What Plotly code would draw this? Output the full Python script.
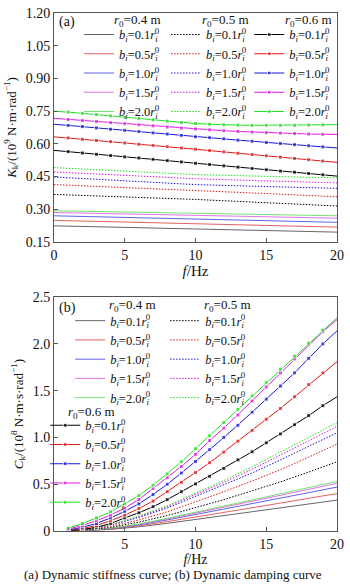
import plotly.graph_objects as go

# ---------------- data ----------------
bi_values = ["0.1", "0.5", "1.0", "1.5", "2.0"]
r0_titles = ["0.4", "0.5", "0.6"]
colors = ["#000000", "#e01818", "#1818d8", "#e018e0", "#20e020"]
thin_colors = ["#555555", "#e05050", "#5050e0", "#e060e0", "#60e060"]

# Panel (a): dynamic stiffness K_k (10^9 N·m·rad^-1)
f_a_coarse = [0, 5, 10, 15, 20]
f_a_fine = list(range(21))
ka_r04 = [
    [0.224, 0.217, 0.210, 0.202, 0.195],
    [0.249, 0.241, 0.233, 0.225, 0.218],
    [0.270, 0.263, 0.255, 0.248, 0.240],
    [0.285, 0.278, 0.271, 0.265, 0.259],
    [0.293, 0.287, 0.281, 0.275, 0.270],
]
ka_r05 = [
    [0.368, 0.357, 0.345, 0.330, 0.315],
    [0.413, 0.400, 0.387, 0.372, 0.357],
    [0.448, 0.430, 0.413, 0.404, 0.396],
    [0.471, 0.455, 0.440, 0.430, 0.421],
    [0.491, 0.475, 0.459, 0.451, 0.444],
]
ka_r06 = [
    [0.570, 0.564, 0.558, 0.552, 0.546, 0.540, 0.535, 0.529, 0.523, 0.517, 0.511,
     0.505, 0.499, 0.493, 0.487, 0.481, 0.475, 0.470, 0.464, 0.458, 0.452],
    [0.632, 0.627, 0.621, 0.615, 0.610, 0.604, 0.598, 0.593, 0.587, 0.581, 0.575,
     0.569, 0.563, 0.557, 0.551, 0.545, 0.539, 0.533, 0.527, 0.521, 0.515],
    [0.690, 0.685, 0.679, 0.673, 0.667, 0.662, 0.656, 0.650, 0.645, 0.639, 0.632,
     0.628, 0.623, 0.617, 0.612, 0.606, 0.601, 0.596, 0.591, 0.586, 0.581],
    [0.717, 0.712, 0.707, 0.702, 0.697, 0.692, 0.687, 0.682, 0.677, 0.672, 0.668,
     0.664, 0.660, 0.657, 0.654, 0.651, 0.649, 0.647, 0.645, 0.644, 0.643],
    [0.750, 0.746, 0.740, 0.734, 0.728, 0.722, 0.716, 0.710, 0.704, 0.698, 0.693,
     0.690, 0.687, 0.686, 0.685, 0.685, 0.685, 0.685, 0.686, 0.687, 0.688],
]

# Panel (b): dynamic damping C_k (10^8 N·m·s·rad^-1)
f_b_coarse = [1, 2, 4, 6, 8, 10, 12, 14, 16, 18, 20]
f_b_fine = list(range(1, 21))
cb_r04 = [
    [0.001, 0.003, 0.017, 0.045, 0.082, 0.122, 0.163, 0.205, 0.247, 0.290, 0.330],
    [0.001, 0.004, 0.021, 0.055, 0.100, 0.148, 0.197, 0.248, 0.298, 0.350, 0.400],
    [0.001, 0.004, 0.025, 0.065, 0.118, 0.175, 0.233, 0.292, 0.352, 0.410, 0.470],
    [0.001, 0.005, 0.028, 0.070, 0.128, 0.190, 0.253, 0.316, 0.380, 0.445, 0.510],
    [0.001, 0.005, 0.030, 0.075, 0.135, 0.200, 0.265, 0.330, 0.395, 0.460, 0.530],
]
cb_r05 = [
    [0.002, 0.008, 0.038, 0.095, 0.165, 0.250, 0.335, 0.430, 0.525, 0.630, 0.740],
    [0.002, 0.010, 0.048, 0.118, 0.205, 0.310, 0.420, 0.535, 0.655, 0.790, 0.930],
    [0.003, 0.012, 0.060, 0.145, 0.245, 0.370, 0.490, 0.620, 0.760, 0.905, 1.050],
    [0.003, 0.013, 0.063, 0.155, 0.260, 0.390, 0.520, 0.660, 0.810, 0.965, 1.120],
    [0.003, 0.014, 0.066, 0.160, 0.270, 0.405, 0.540, 0.685, 0.840, 1.000, 1.160],
]
cb_r06 = [
    [0.003, 0.015, 0.040, 0.080, 0.140, 0.195, 0.260, 0.335, 0.420, 0.503,
     0.585, 0.668, 0.760, 0.847, 0.942, 1.037, 1.136, 1.234, 1.340, 1.435],
    [0.005, 0.025, 0.060, 0.110, 0.170, 0.240, 0.320, 0.420, 0.520, 0.626,
     0.730, 0.844, 0.960, 1.075, 1.195, 1.310, 1.435, 1.565, 1.690, 1.810],
    [0.010, 0.040, 0.080, 0.140, 0.210, 0.290, 0.390, 0.500, 0.620, 0.742,
     0.870, 1.000, 1.130, 1.270, 1.410, 1.550, 1.690, 1.846, 2.000, 2.140],
    [0.020, 0.060, 0.110, 0.170, 0.245, 0.337, 0.455, 0.573, 0.690, 0.820,
     0.967, 1.100, 1.240, 1.390, 1.540, 1.690, 1.840, 1.990, 2.130, 2.260],
    [0.030, 0.080, 0.140, 0.205, 0.290, 0.380, 0.490, 0.610, 0.740, 0.880,
     1.020, 1.160, 1.300, 1.445, 1.590, 1.730, 1.870, 2.010, 2.150, 2.280],
]

ka_ticks = [0.15, 0.30, 0.45, 0.60, 0.75, 0.90, 1.05, 1.20]
cb_ticks = [0, 0.5, 1.0, 1.5, 2.0, 2.5]
cb_ticktext = ["0", "0.5", "1.0", "1.5", "2.0", "2.5"]
f_ticks_a = [0, 5, 10, 15, 20]
f_ticks_b = [5, 10, 15, 20]

FONT = "Liberation Serif"
DOT = "1.5px,1.5px"


def lab(b):
    return ("<i>b</i><sub><i>i</i></sub>=" + b +
            "<i>r</i><sub><span style='letter-spacing:-3px'><i>i</i></span></sub><sup>0</sup>")


def r0lab(r):
    return "<i>r</i><sub>0</sub>=" + r + " m"


fig = go.Figure()

# ---- panel (a) ----
for i in range(5):
    fig.add_trace(go.Scatter(x=f_a_coarse, y=ka_r04[i], mode="lines",
                             line=dict(color=thin_colors[i], width=0.9),
                             name=lab(bi_values[i]), legend="legend",
                             xaxis="x", yaxis="y"))
for i in range(5):
    fig.add_trace(go.Scatter(x=f_a_coarse, y=ka_r05[i], mode="lines",
                             line=dict(color=colors[i], width=1, dash=DOT),
                             name=lab(bi_values[i]), legend="legend2",
                             xaxis="x", yaxis="y"))
for i in range(5):
    sizes = [0] + [4] * 19 + [0]
    fig.add_trace(go.Scatter(x=f_a_fine, y=ka_r06[i], mode="lines+markers",
                             line=dict(color=colors[i], width=1),
                             marker=dict(symbol="square", size=sizes, color=colors[i]),
                             name=lab(bi_values[i]), legend="legend3",
                             xaxis="x", yaxis="y"))

# ---- panel (b) ----
for i in range(5):
    fig.add_trace(go.Scatter(x=f_b_coarse, y=cb_r04[i], mode="lines",
                             line=dict(color=thin_colors[i], width=0.9),
                             name=lab(bi_values[i]), legend="legend4",
                             xaxis="x2", yaxis="y2"))
for i in range(5):
    fig.add_trace(go.Scatter(x=f_b_coarse, y=cb_r05[i], mode="lines",
                             line=dict(color=colors[i], width=1, dash=DOT),
                             name=lab(bi_values[i]), legend="legend5",
                             xaxis="x2", yaxis="y2"))
for i in range(5):
    sizes = [4] * 19 + [0]
    fig.add_trace(go.Scatter(x=f_b_fine, y=cb_r06[i], mode="lines+markers",
                             line=dict(color=colors[i], width=1),
                             marker=dict(symbol="square", size=sizes, color=colors[i]),
                             name=lab(bi_values[i]), legend="legend6",
                             xaxis="x2", yaxis="y2"))

axis_common = dict(showline=True, mirror=True, linecolor="#555555", linewidth=1,
                   ticks="inside", ticklen=4, tickcolor="#555555",
                   showgrid=False, zeroline=False,
                   tickfont=dict(family=FONT, size=14, color="#111"))


def leg(x, y):
    return dict(x=x, y=y, xanchor="left", yanchor="top",
                bgcolor="rgba(0,0,0,0)", borderwidth=0,
                font=dict(family=FONT, size=12.5, color="#111"),
                tracegroupgap=0, itemwidth=30)


def ann(text, x, y, xanchor="left", size=13):
    return dict(text=text, x=x, y=y, xref="paper", yref="paper",
                xanchor=xanchor, yanchor="middle", showarrow=False,
                font=dict(family=FONT, size=size, color="#111"))


fig.update_layout(
    width=350, height=585,
    margin=dict(l=54, r=7, t=6, b=54),
    paper_bgcolor="white", plot_bgcolor="white",
    font=dict(family=FONT, size=14, color="#111"),
    xaxis=dict(domain=[0, 1], anchor="y", range=[0, 20], tickvals=f_ticks_a,
               title=dict(text="<i>f</i>/Hz", font=dict(family=FONT, size=15), standoff=2),
               **axis_common),
    yaxis=dict(domain=[0.558, 1], anchor="x", range=[0.15, 1.20], tickvals=ka_ticks,
               tickformat=".2f",
               title=dict(text="<i>K</i><sub>k</sub>/(10<sup>9</sup> N·m·rad<sup>−1</sup>)",
                          font=dict(family=FONT, size=13), standoff=6),
               **axis_common),
    xaxis2=dict(domain=[0, 1], anchor="y2", range=[0, 20], tickvals=f_ticks_b,
                title=dict(text="<i>f</i>/Hz", font=dict(family=FONT, size=14), standoff=1),
                **axis_common),
    yaxis2=dict(domain=[0, 0.4514], anchor="x2", range=[0, 2.5], tickvals=cb_ticks,
                ticktext=cb_ticktext,
                title=dict(text="<i>C</i><sub>k</sub>/(10<sup>8</sup> N·m·s·rad<sup>−1</sup>)",
                           font=dict(family=FONT, size=13), standoff=6),
                **axis_common),
    legend=leg(0.0882, 0.9867),
    legend2=leg(0.396, 0.9867),
    legend3=leg(0.690, 0.9867),
    legend4=leg(0.0571, 0.4343),
    legend5=leg(0.3927, 0.4343),
    legend6=leg(-0.031, 0.2324),
    annotations=[
        ann("(a)", 0.012, 0.983, size=14),
        ann("(b)", 0.012, 0.4305, size=14),
        ann(r0lab(r0_titles[0]), 0.384, 0.9848, "right"),
        ann(r0lab(r0_titles[1]), 0.6955, 0.9848, "right"),
        ann(r0lab(r0_titles[2]), 0.9896, 0.9848, "right"),
        ann(r0lab(r0_titles[0]), 0.3668, 0.4362, "right"),
        ann(r0lab(r0_titles[1]), 0.7024, 0.4362, "right"),
        ann(r0lab(r0_titles[2]), 0.2215, 0.2286, "right"),
        dict(text="(a) Dynamic stiffness curve; (b) Dynamic damping curve",
             x=0.422, y=-0.0838, xref="paper", yref="paper",
             xanchor="center", yanchor="middle", showarrow=False,
             font=dict(family=FONT, size=13, color="#111")),
    ],
)

fig.write_html("out.html")
